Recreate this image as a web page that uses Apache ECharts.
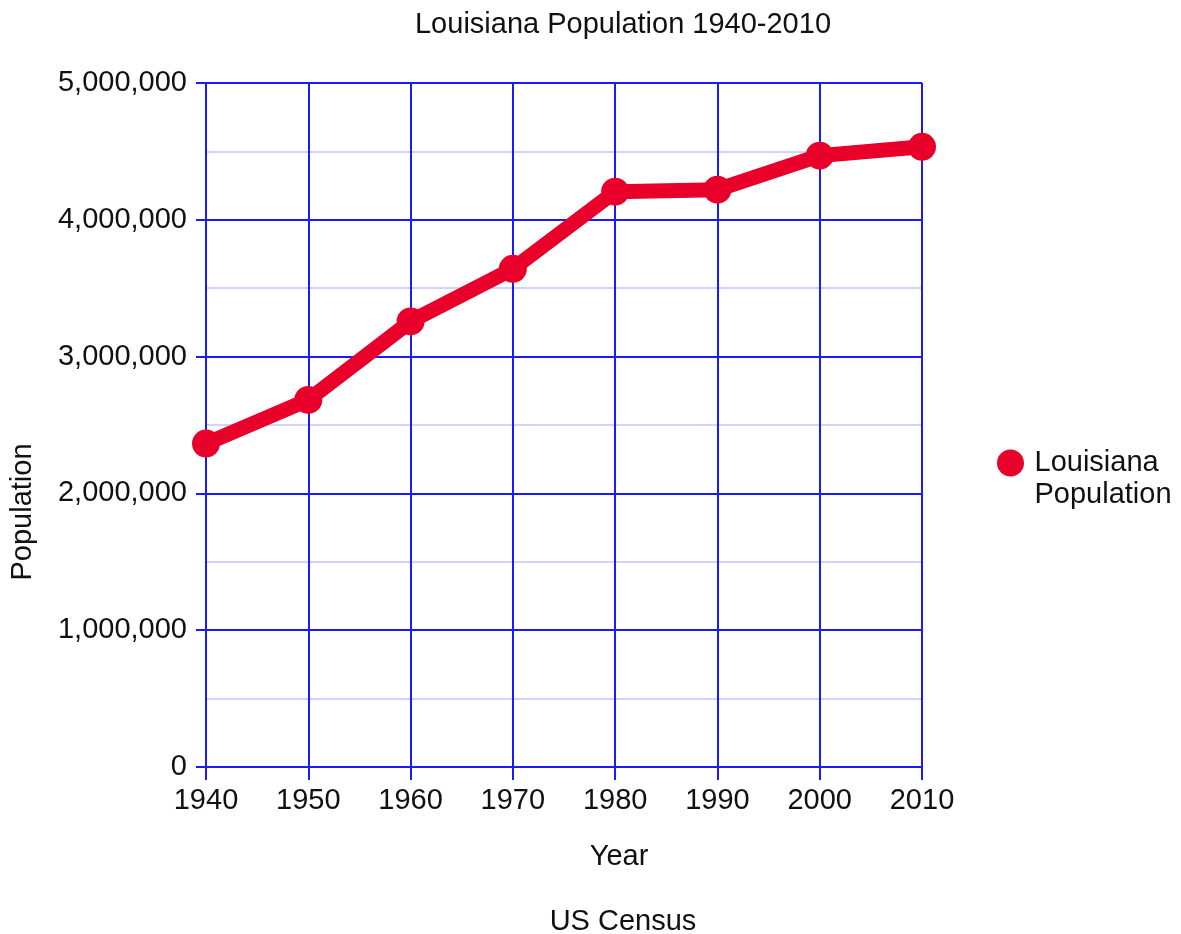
<!DOCTYPE html>
<html>
<head>
<meta charset="utf-8">
<script src="https://cdn.jsdelivr.net/npm/echarts@6/dist/echarts.min.js"></script>
<style>
html,body{margin:0;padding:0;background:#fff;}
#chart{width:1181px;height:934px;}
</style>
</head>
<body>
<div id="chart"></div>
<script>
var years=['1940','1950','1960','1970','1980','1990','2000','2010'];
var population=[2363880,2683516,3257022,3641306,4205900,4219973,4468976,4533372];
var seriesName='Louisiana Population';

var font='"Liberation Sans", Arial, sans-serif';
var fs=29;
var txt='#111';
var blue='#1a1aff';
var red='#e8002b';
var myChart=echarts.init(document.getElementById('chart'));
var option={
    backgroundColor:'#fff',
    textStyle:{fontFamily:font},
    title:[
        {
            text:'Louisiana Population 1940-2010',
            left:618,
            top:5,
            textAlign:'center',
            textStyle:{fontSize:fs,fontWeight:'normal',color:txt,fontFamily:font}
        },
        {
            text:'US Census',
            left:618,
            top:902,
            textAlign:'center',
            textStyle:{fontSize:fs,fontWeight:'normal',color:txt,fontFamily:font}
        }
    ],
    graphic:[
        {//x轴名称
            type:'text',
            x:619,
            y:857,
            style:{text:'Year',font:fs+'px '+font,fill:txt,align:'center',verticalAlign:'middle'}
        },
        {//y轴名称
            type:'text',
            x:23,
            y:512,
            rotation:Math.PI/2,
            style:{text:'Population',font:fs+'px '+font,fill:txt,align:'center',verticalAlign:'middle'}
        }
    ],
    legend:{
        left:992,
        top:410,
        orient:'vertical',
        icon:'circle',
        itemWidth:30,
        itemHeight:27,
        formatter:function(){return '\nLouisiana\nPopulation';},
        textStyle:{fontSize:fs,color:txt,lineHeight:32,fontFamily:font,padding:[0,0,0,4]},
        data:[seriesName]
    },
    grid:{//边距
        left:206,
        right:259,
        top:83,
        bottom:167
    },
    xAxis:{
        type:'category',
        data:years,
        boundaryGap:false,
        axisLine:{show:true,lineStyle:{color:blue,width:2}},
        axisTick:{show:true,length:13,lineStyle:{color:blue,width:2}},
        axisLabel:{fontSize:fs,color:txt,margin:19},
        splitLine:{show:true,lineStyle:{color:blue,width:2}}
    },
    yAxis:{
        type:'value',
        min:0,
        max:5000000,
        interval:1000000,
        axisLine:{show:true,lineStyle:{color:blue,width:2}},
        axisTick:{show:true,length:10,lineStyle:{color:blue,width:2}},
        axisLabel:{
            fontSize:fs,
            color:txt,
            margin:19,
            formatter:function(v){return v.toLocaleString('en-US');}
        },
        splitLine:{show:true,lineStyle:{color:blue,width:2}},
        minorTick:{show:false,splitNumber:2},
        minorSplitLine:{show:true,lineStyle:{color:'#c4c4ff',width:1.5}}
    },
    series:[
        {
            name:seriesName,
            type:'line',
            data:population,
            symbol:'circle',
            symbolSize:28,
            color:red,
            lineStyle:{width:15,color:red},
            itemStyle:{color:red},
            z:5
        }
    ]
};
myChart.setOption(option);
</script>
</body>
</html>
